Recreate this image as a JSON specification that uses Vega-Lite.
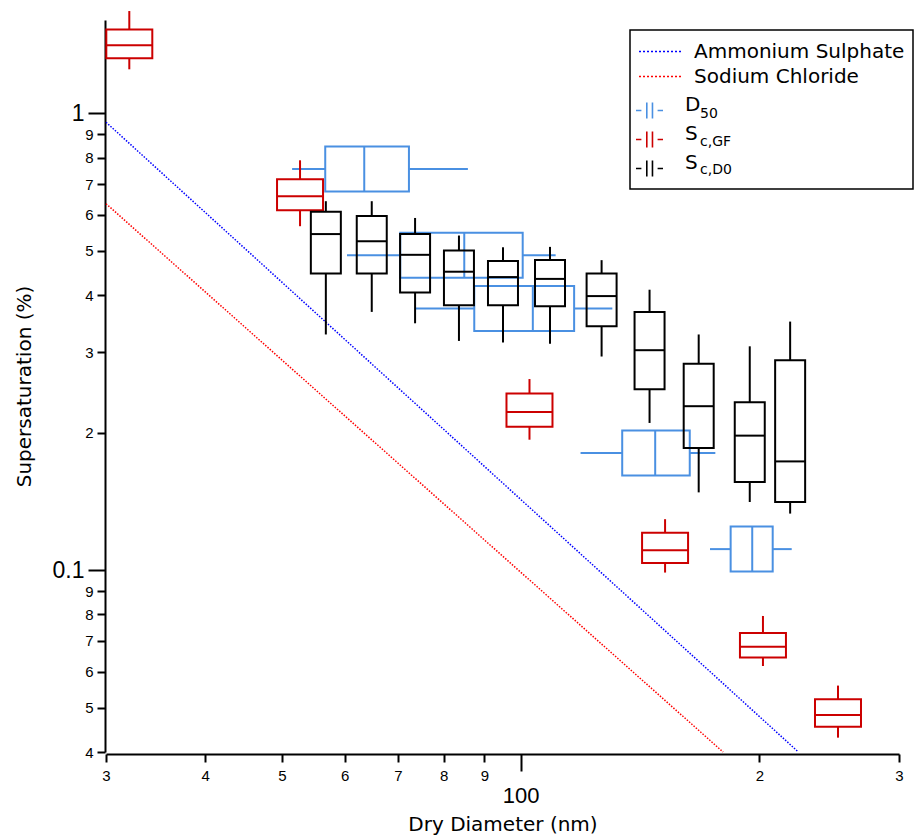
{
  "$schema": "https://vega.github.io/schema/vega-lite/v6.json",
  "width": 793,
  "height": 732,
  "autosize": {"type": "none"},
  "padding": {"left": 106, "top": 20, "right": 16, "bottom": 86},
  "config": {"view": {"stroke": null}, "font": "Liberation Sans", "legend": {"strokeWidth": 1.5}},
  "datasets": {
    "lines": [
      {"material": "Ammonium Sulphate", "d": 30, "s": 0.956},
      {"material": "Ammonium Sulphate", "d": 224, "s": 0.04},
      {"material": "Sodium Chloride", "d": 30, "s": 0.634},
      {"material": "Sodium Chloride", "d": 180, "s": 0.04}
    ],
    "vbox": [
      {"series": "Sc,GF", "d": 32.1, "lo": 1.248, "q1": 1.319, "med": 1.409, "q3": 1.525, "hi": 1.674},
      {"series": "Sc,GF", "d": 52.7, "lo": 0.566, "q1": 0.6135, "med": 0.658, "q3": 0.717, "hi": 0.789},
      {"series": "Sc,GF", "d": 102.6, "lo": 0.193, "q1": 0.206, "med": 0.222, "q3": 0.2435, "hi": 0.262},
      {"series": "Sc,GF", "d": 152.1, "lo": 0.0988, "q1": 0.1037, "med": 0.1106, "q3": 0.1207, "hi": 0.1293},
      {"series": "Sc,GF", "d": 202.1, "lo": 0.0617, "q1": 0.0644, "med": 0.068, "q3": 0.0729, "hi": 0.0794},
      {"series": "Sc,GF", "d": 251.3, "lo": 0.043, "q1": 0.0454, "med": 0.0482, "q3": 0.0522, "hi": 0.0559},
      {"series": "Sc,D0", "d": 56.8, "lo": 0.328, "q1": 0.446, "med": 0.544, "q3": 0.609, "hi": 0.642},
      {"series": "Sc,D0", "d": 64.9, "lo": 0.3675, "q1": 0.446, "med": 0.525, "q3": 0.596, "hi": 0.642},
      {"series": "Sc,D0", "d": 73.6, "lo": 0.347, "q1": 0.405, "med": 0.49, "q3": 0.544, "hi": 0.59},
      {"series": "Sc,D0", "d": 83.6, "lo": 0.3175, "q1": 0.38, "med": 0.45, "q3": 0.501, "hi": 0.54},
      {"series": "Sc,D0", "d": 95.0, "lo": 0.315, "q1": 0.38, "med": 0.438, "q3": 0.475, "hi": 0.509},
      {"series": "Sc,D0", "d": 108.9, "lo": 0.313, "q1": 0.378, "med": 0.434, "q3": 0.4775, "hi": 0.51},
      {"series": "Sc,D0", "d": 126.5, "lo": 0.2935, "q1": 0.342, "med": 0.398, "q3": 0.446, "hi": 0.477},
      {"series": "Sc,D0", "d": 145.4, "lo": 0.21, "q1": 0.249, "med": 0.303, "q3": 0.3675, "hi": 0.411},
      {"series": "Sc,D0", "d": 167.7, "lo": 0.148, "q1": 0.185, "med": 0.2285, "q3": 0.283, "hi": 0.328},
      {"series": "Sc,D0", "d": 194.5, "lo": 0.141, "q1": 0.156, "med": 0.197, "q3": 0.233, "hi": 0.309},
      {"series": "Sc,D0", "d": 218.7, "lo": 0.133, "q1": 0.141, "med": 0.173, "q3": 0.288, "hi": 0.35}
    ],
    "hbox": [
      {"series": "D50", "sub": "50", "s": 0.755, "lo": 51.5, "q1": 56.7, "med": 63.5, "q3": 72.3, "hi": 85.8},
      {"series": "D50", "sub": "50", "s": 0.489, "lo": 60.4, "q1": 70.5, "med": 84.9, "q3": 100.6, "hi": 110.7},
      {"series": "D50", "sub": "50", "s": 0.374, "lo": 73.7, "q1": 87.4, "med": 103.6, "q3": 116.8, "hi": 130.5},
      {"series": "D50", "sub": "50", "s": 0.1805, "lo": 119.0, "q1": 134.3, "med": 147.8, "q3": 163.4, "hi": 176.0},
      {"series": "D50", "sub": "50", "s": 0.1112, "lo": 173.3, "q1": 184.0, "med": 195.9, "q3": 207.9, "hi": 219.7}
    ]
  },
  "layer": [
    {
      "data": {"name": "lines"},
      "mark": {"type": "line", "strokeWidth": 1.5, "strokeDash": [1.5, 1.5]},
      "encoding": {
        "x": {
          "field": "d", "type": "quantitative",
          "scale": {"type": "log", "domain": [30, 300], "nice": false, "padding": 0},
          "axis": {
            "title": "Dry Diameter (nm)",
            "values": [30, 40, 50, 60, 70, 80, 90, 100, 200, 300],
            "labelExpr": "datum.value == 100 ? '100' : substring(toString(datum.value), 0, 1)",
            "labelFontSize": {"condition": {"test": "datum.value == 100", "value": 22}, "value": 15},
            "tickSize": {"condition": {"test": "datum.value == 100", "value": 17}, "value": 8},
            "labelPadding": {"condition": {"test": "datum.value == 100", "value": 14}, "value": 6},
            "offset": 2,
            "grid": false,
            "domainColor": "black", "domainWidth": 2,
            "tickColor": "black", "tickWidth": 2,
            "labelColor": "black", "labelFont": "Liberation Sans",
            "labelFlush": false, "labelOverlap": false, "labelBound": false,
            "titleFont": "DejaVu Sans", "titleFontSize": 20, "titleFontWeight": "normal",
            "titleColor": "black", "titlePadding": 8
          }
        },
        "y": {
          "field": "s", "type": "quantitative",
          "scale": {"type": "log", "domain": [0.04, 1.6], "nice": false, "padding": 0},
          "axis": {
            "title": "Supersaturation (%)",
            "values": [0.04, 0.05, 0.06, 0.07, 0.08, 0.09, 0.1, 0.2, 0.3, 0.4, 0.5, 0.6, 0.7, 0.8, 0.9, 1],
            "labelExpr": "datum.value == 1 ? '1' : datum.value == 0.1 ? '0.1' : datum.value > 0.1 ? toString(round(datum.value * 10)) : toString(round(datum.value * 100))",
            "labelFontSize": {"condition": {"test": "datum.value == 1 || datum.value == 0.1", "value": 23}, "value": 15},
            "tickSize": {"condition": {"test": "datum.value == 1 || datum.value == 0.1", "value": 17}, "value": 8},
            "labelPadding": 4,
            "offset": 1,
            "grid": false,
            "domainColor": "black", "domainWidth": 2,
            "tickColor": "black", "tickWidth": 2,
            "labelColor": "black", "labelFont": "Liberation Sans",
            "labelOverlap": false, "labelBound": false, "labelFlush": false,
            "titleFont": "DejaVu Sans", "titleFontSize": 20, "titleFontWeight": "normal",
            "titleColor": "black", "titlePadding": 18
          }
        },
        "color": {
          "field": "material", "type": "nominal",
          "scale": {"domain": ["Ammonium Sulphate", "Sodium Chloride"], "range": ["#0000ff", "#ff0000"]},
          "legend": {
            "orient": "none", "legendX": 524, "legendY": 10,
            "title": "\u00a0", "titleOrient": "bottom", "titleFontSize": 91, "titlePadding": 4,
            "strokeColor": "black", "padding": 8,
            "symbolType": "M-1,0H2.52", "symbolSize": 625, "symbolStrokeWidth": 1.5, "symbolDash": [2, 2],
            "labelFontSize": 20, "labelFont": "DejaVu Sans", "labelColor": "black",
            "labelOffset": 29, "labelLimit": 400, "rowPadding": 1
          }
        },
        "detail": {"field": "material"}
      }
    },
    {
      "layer": [
        {
          "data": {"name": "hbox"},
          "mark": {"type": "bar", "orient": "horizontal", "filled": false, "strokeWidth": 2, "size": 45},
          "encoding": {
            "x": {"field": "q1", "type": "quantitative", "scale": {"type": "log", "domain": [30, 300], "nice": false, "padding": 0}, "axis": {"title": "Dry Diameter (nm)"}},
            "x2": {"field": "q3"},
            "y": {"field": "s", "type": "quantitative", "scale": {"type": "log", "domain": [0.04, 1.6], "nice": false, "padding": 0}, "axis": {"title": "Supersaturation (%)"}},
            "color": {
              "field": "series", "type": "nominal",
              "scale": {"domain": ["D50", "Sc,GF", "Sc,D0"], "range": ["#4a90e2", "#cc0000", "#000000"]},
              "legend": {
                "orient": "none", "legendX": 529, "legendY": 76,
                "title": null, "padding": 0,
                "symbolType": "M-1,0H-0.6M-0.2,-0.6V0.6M0.22,-0.6V0.6M0.6,0H1",
                "symbolSize": 729, "symbolStrokeWidth": 1.6, "symbolFillColor": "transparent",
                "labelExpr": "substring(datum.label, 0, 1)",
                "labelFontSize": 20, "labelFont": "DejaVu Sans", "labelColor": "black",
                "labelBaseline": "alphabetic", "labelOffset": 21, "rowPadding": 1
              }
            },
            "opacity": {
              "field": "sub", "type": "ordinal",
              "scale": {"domain": ["50", "c,GF", "c,D0"], "range": [1, 1, 1]},
              "legend": {
                "orient": "none", "legendX": 529, "legendY": 83,
                "title": null, "padding": 0,
                "symbolType": "M0,0", "symbolSize": 729, "symbolStrokeWidth": 1.6, "symbolOpacity": 0,
                "labelFontSize": 14, "labelFont": "DejaVu Sans", "labelColor": "black",
                "labelBaseline": "alphabetic", "labelOffset": 36, "rowPadding": 10
              }
            }
          }
        },
        {
          "data": {"name": "hbox"},
          "mark": {"type": "rule", "strokeWidth": 2},
          "encoding": {
            "x": {"field": "lo", "type": "quantitative", "scale": {"type": "log", "domain": [30, 300], "nice": false, "padding": 0}, "axis": {"title": "Dry Diameter (nm)"}},
            "x2": {"field": "q1"},
            "y": {"field": "s", "type": "quantitative", "scale": {"type": "log", "domain": [0.04, 1.6], "nice": false, "padding": 0}, "axis": {"title": "Supersaturation (%)"}},
            "color": {"field": "series", "type": "nominal", "scale": {"domain": ["D50", "Sc,GF", "Sc,D0"], "range": ["#4a90e2", "#cc0000", "#000000"]}, "legend": null}
          }
        },
        {
          "data": {"name": "hbox"},
          "mark": {"type": "rule", "strokeWidth": 2},
          "encoding": {
            "x": {"field": "q3", "type": "quantitative", "scale": {"type": "log", "domain": [30, 300], "nice": false, "padding": 0}, "axis": {"title": "Dry Diameter (nm)"}},
            "x2": {"field": "hi"},
            "y": {"field": "s", "type": "quantitative", "scale": {"type": "log", "domain": [0.04, 1.6], "nice": false, "padding": 0}, "axis": {"title": "Supersaturation (%)"}},
            "color": {"field": "series", "type": "nominal", "scale": {"domain": ["D50", "Sc,GF", "Sc,D0"], "range": ["#4a90e2", "#cc0000", "#000000"]}, "legend": null}
          }
        },
        {
          "data": {"name": "hbox"},
          "mark": {"type": "tick", "orient": "vertical", "size": 45, "thickness": 2, "opacity": 1},
          "encoding": {
            "x": {"field": "med", "type": "quantitative", "scale": {"type": "log", "domain": [30, 300], "nice": false, "padding": 0}, "axis": {"title": "Dry Diameter (nm)"}},
            "y": {"field": "s", "type": "quantitative", "scale": {"type": "log", "domain": [0.04, 1.6], "nice": false, "padding": 0}, "axis": {"title": "Supersaturation (%)"}},
            "color": {"field": "series", "type": "nominal", "scale": {"domain": ["D50", "Sc,GF", "Sc,D0"], "range": ["#4a90e2", "#cc0000", "#000000"]}, "legend": null}
          }
        },
        {
          "data": {"name": "vbox"},
          "transform": [{"filter": "datum.series == 'Sc,GF'"}],
          "mark": {"type": "bar", "orient": "vertical", "filled": false, "strokeWidth": 2, "size": 46},
          "encoding": {
            "x": {"field": "d", "type": "quantitative", "scale": {"type": "log", "domain": [30, 300], "nice": false, "padding": 0}, "axis": {"title": "Dry Diameter (nm)"}},
            "y": {"field": "q1", "type": "quantitative", "scale": {"type": "log", "domain": [0.04, 1.6], "nice": false, "padding": 0}, "axis": {"title": "Supersaturation (%)"}},
            "y2": {"field": "q3"},
            "color": {"field": "series", "type": "nominal", "scale": {"domain": ["D50", "Sc,GF", "Sc,D0"], "range": ["#4a90e2", "#cc0000", "#000000"]}, "legend": null}
          }
        },
        {
          "data": {"name": "vbox"},
          "transform": [{"filter": "datum.series == 'Sc,GF'"}],
          "mark": {"type": "tick", "orient": "horizontal", "size": 46, "thickness": 2, "opacity": 1},
          "encoding": {
            "x": {"field": "d", "type": "quantitative", "scale": {"type": "log", "domain": [30, 300], "nice": false, "padding": 0}, "axis": {"title": "Dry Diameter (nm)"}},
            "y": {"field": "med", "type": "quantitative", "scale": {"type": "log", "domain": [0.04, 1.6], "nice": false, "padding": 0}, "axis": {"title": "Supersaturation (%)"}},
            "color": {"field": "series", "type": "nominal", "scale": {"domain": ["D50", "Sc,GF", "Sc,D0"], "range": ["#4a90e2", "#cc0000", "#000000"]}, "legend": null}
          }
        },
        {
          "data": {"name": "vbox"},
          "mark": {"type": "rule", "strokeWidth": 2},
          "encoding": {
            "x": {"field": "d", "type": "quantitative", "scale": {"type": "log", "domain": [30, 300], "nice": false, "padding": 0}, "axis": {"title": "Dry Diameter (nm)"}},
            "y": {"field": "lo", "type": "quantitative", "scale": {"type": "log", "domain": [0.04, 1.6], "nice": false, "padding": 0}, "axis": {"title": "Supersaturation (%)"}},
            "y2": {"field": "q1"},
            "color": {"field": "series", "type": "nominal", "scale": {"domain": ["D50", "Sc,GF", "Sc,D0"], "range": ["#4a90e2", "#cc0000", "#000000"]}, "legend": null}
          }
        },
        {
          "data": {"name": "vbox"},
          "mark": {"type": "rule", "strokeWidth": 2},
          "encoding": {
            "x": {"field": "d", "type": "quantitative", "scale": {"type": "log", "domain": [30, 300], "nice": false, "padding": 0}, "axis": {"title": "Dry Diameter (nm)"}},
            "y": {"field": "q3", "type": "quantitative", "scale": {"type": "log", "domain": [0.04, 1.6], "nice": false, "padding": 0}, "axis": {"title": "Supersaturation (%)"}},
            "y2": {"field": "hi"},
            "color": {"field": "series", "type": "nominal", "scale": {"domain": ["D50", "Sc,GF", "Sc,D0"], "range": ["#4a90e2", "#cc0000", "#000000"]}, "legend": null}
          }
        },
        {
          "data": {"name": "vbox"},
          "transform": [{"filter": "datum.series == 'Sc,D0'"}],
          "mark": {"type": "bar", "orient": "vertical", "filled": false, "strokeWidth": 2, "size": 30},
          "encoding": {
            "x": {"field": "d", "type": "quantitative", "scale": {"type": "log", "domain": [30, 300], "nice": false, "padding": 0}, "axis": {"title": "Dry Diameter (nm)"}},
            "y": {"field": "q1", "type": "quantitative", "scale": {"type": "log", "domain": [0.04, 1.6], "nice": false, "padding": 0}, "axis": {"title": "Supersaturation (%)"}},
            "y2": {"field": "q3"},
            "color": {"field": "series", "type": "nominal", "scale": {"domain": ["D50", "Sc,GF", "Sc,D0"], "range": ["#4a90e2", "#cc0000", "#000000"]}, "legend": null}
          }
        },
        {
          "data": {"name": "vbox"},
          "transform": [{"filter": "datum.series == 'Sc,D0'"}],
          "mark": {"type": "tick", "orient": "horizontal", "size": 30, "thickness": 2, "opacity": 1},
          "encoding": {
            "x": {"field": "d", "type": "quantitative", "scale": {"type": "log", "domain": [30, 300], "nice": false, "padding": 0}, "axis": {"title": "Dry Diameter (nm)"}},
            "y": {"field": "med", "type": "quantitative", "scale": {"type": "log", "domain": [0.04, 1.6], "nice": false, "padding": 0}, "axis": {"title": "Supersaturation (%)"}},
            "color": {"field": "series", "type": "nominal", "scale": {"domain": ["D50", "Sc,GF", "Sc,D0"], "range": ["#4a90e2", "#cc0000", "#000000"]}, "legend": null}
          }
        }
      ]
    }
  ],
  "resolve": {"scale": {"color": "independent"}}
}
